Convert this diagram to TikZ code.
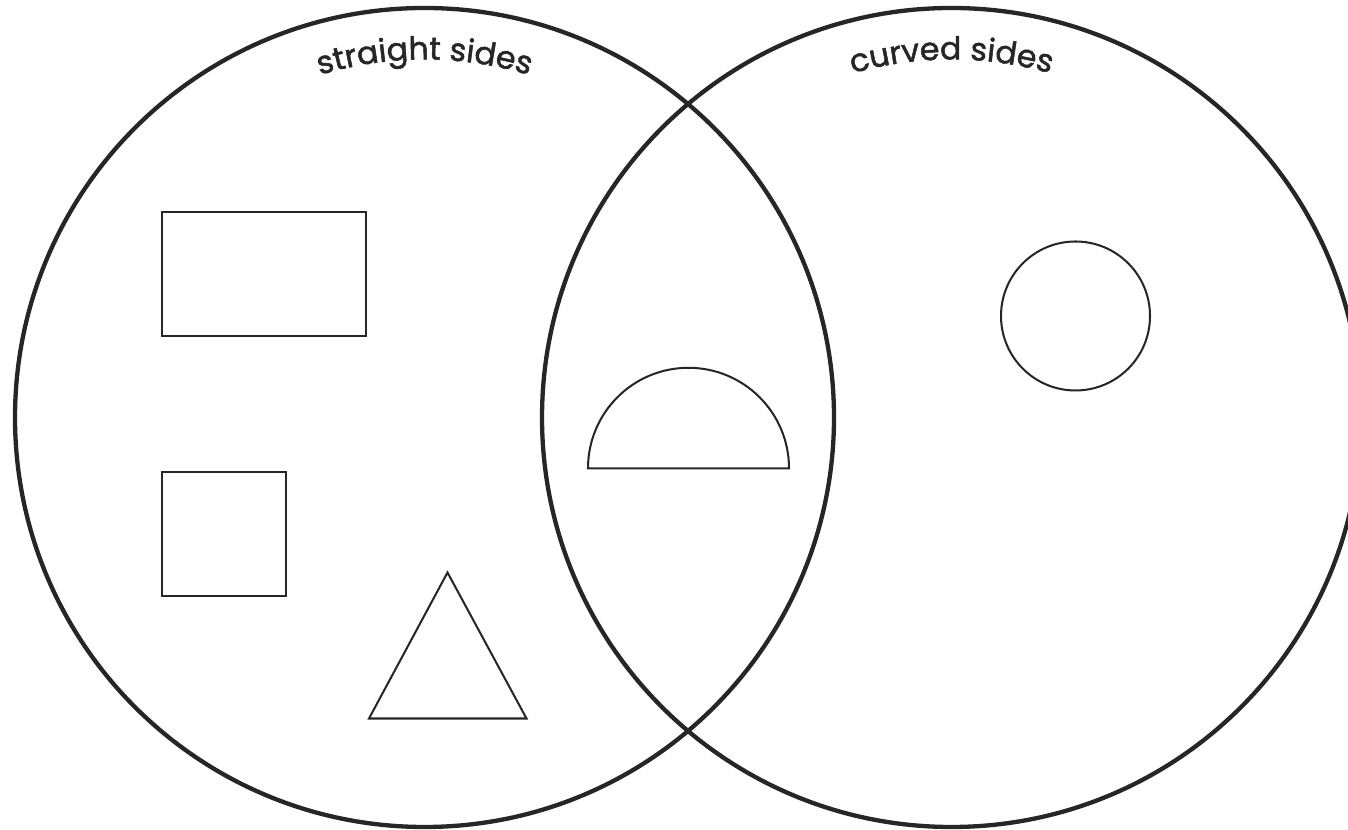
\documentclass[tikz,border=0pt]{standalone}
\usepackage{fontspec}
\setmainfont{Poppins}
\newfontfamily\setfont{Poppins}[FakeBold=1.6]
\usepackage{xcolor}
\usepackage{tikz}
\usetikzlibrary{decorations.text}
\definecolor{ink}{HTML}{262626}

\begin{document}
\begin{tikzpicture}[x=0.02cm, y=0.02cm, line join=miter]
  \clip (0,0) rectangle (1348,830);
  \coordinate (leftc) at (424.5,412.5);
  \coordinate (rightc) at (951.5,412.5);
  % the two sets
  \draw[ink, line width=2.45pt] (leftc) circle[radius=409.5];
  \draw[ink, line width=2.45pt] (rightc) circle[radius=409.5];
  % set labels
  \path[decorate, decoration={text along path, text align=center,
    text={|\setfont\fontsize{18}{18}\selectfont\color{ink}|straight sides}}]
    (leftc) ++(118:358) arc[start angle=118, end angle=62, radius=358];
  \path[decorate, decoration={text along path, text align=center,
    text={|\setfont\fontsize{18}{18}\selectfont\color{ink}|curved sides}}]
    (rightc) ++(118:358) arc[start angle=118, end angle=62, radius=358];
  % straight sides only
  \draw[ink, line width=1.45pt] (162,494) rectangle (366,618);
  \draw[ink, line width=1.45pt] (162,234) rectangle (286,358);
  \draw[ink, line width=1.15pt] (447.5,257.5) -- (369,111.5) -- (526.5,111.5) -- cycle;
  % both
  \draw[ink, line width=1.15pt] (588,361.7) arc[start angle=180, end angle=0, radius=100.5] -- cycle;
  % curved sides only
  \draw[ink, line width=1.15pt] (1075.5,514) circle[radius=74.5];
\end{tikzpicture}
\end{document}
